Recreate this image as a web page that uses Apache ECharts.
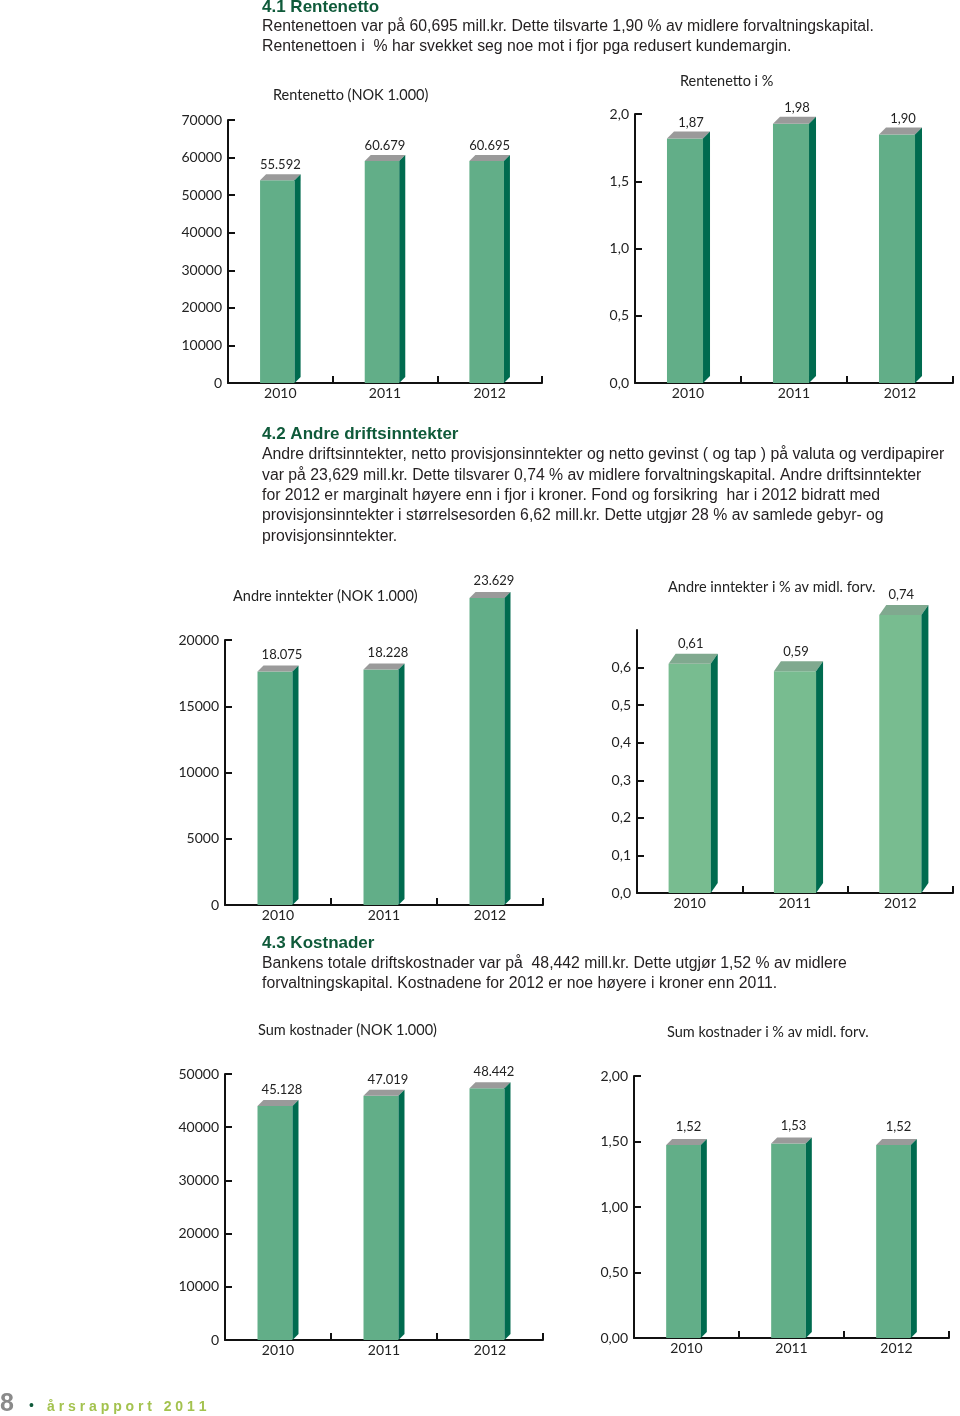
<!DOCTYPE html>
<html><head><meta charset="utf-8">
<script src="https://cdn.jsdelivr.net/npm/echarts@6/dist/echarts.min.js"></script>
<style>html,body{margin:0;padding:0;background:#fff}#c{width:960px;height:1416px}</style>
</head><body><div id="c"></div>
<script>
// ---- data ----
var years = ['2010', '2011', '2012'];
var rentenetto = [55592, 60679, 60695];
var rentenettoPct = [1.87, 1.98, 1.90];
var andreInntekter = [18075, 18228, 23629];
var andrePct = [0.61, 0.59, 0.74];
var sumKostnader = [45128, 47019, 48442];
var kostPct = [1.52, 1.53, 1.52];
var andrePctTicks = [0, 0.1, 0.2, 0.3, 0.4, 0.5, 0.6];
var chartTitles = ['Rentenetto (NOK 1.000)', 'Rentenetto i %', 'Andre inntekter (NOK 1.000)',
  'Andre inntekter i % av midl. forv.', 'Sum kostnader (NOK 1.000)', 'Sum kostnader i % av midl. forv.'];

// ---- styling ----
var FONT = 'Lato';
var BODY = 'Liberation Sans';
function fmtThousand(v) { var s = String(Math.round(v)); return s.replace(/\B(?=(\d{3})+(?!\d))/g, '.'); }
function fmtDec(d) { return function (v) { return Number(v).toFixed(d).replace('.', ','); }; }

var charts = [
  { data: rentenetto, grid: { left: 228, top: 120, width: 314, height: 263 }, max: 70000, interval: 10000, yfmt: function (v) { return String(v); }, lfmt: fmtThousand, front: '#62ae88', top: '#9a9a9a', side: '#006b4f', wFrac: 0.33, dx: 6, dy: 6, off: -3, frontAtValue: false, lblDx: 0, lblGap: 9 },
  { data: rentenettoPct, grid: { left: 635, top: 114, width: 318, height: 269 }, max: 2.0, interval: 0.5, yfmt: fmtDec(1), lfmt: fmtDec(2), front: '#62ae88', top: '#9a9a9a', side: '#006b4f', wFrac: 0.34, dx: 7, dy: 7, off: -3, frontAtValue: false, lblDx: 3, lblGap: 9 },
  { data: andreInntekter, grid: { left: 225, top: 640, width: 318, height: 265 }, max: 20000, interval: 5000, yfmt: function (v) { return String(v); }, lfmt: fmtThousand, front: '#62ae88', top: '#9a9a9a', side: '#006b4f', wFrac: 0.33, dx: 6, dy: 6, off: -3, frontAtValue: false, lblDx: 4, lblGap: 11 },
  { data: andrePct, grid: { left: 637, top: 630, width: 316, height: 263 }, max: 0.7, interval: 0.1, ticks: andrePctTicks, yfmt: fmtDec(1), lfmt: fmtDec(2), front: '#78bc90', top: '#80a98f', side: '#006b4f', wFrac: 0.40, dx: 7, dy: 10, off: 0, frontAtValue: true, lblDx: 1, lblGap: 10 },
  { data: sumKostnader, grid: { left: 225, top: 1074, width: 318, height: 266 }, max: 50000, interval: 10000, yfmt: function (v) { return String(v); }, lfmt: fmtThousand, front: '#62ae88', top: '#9a9a9a', side: '#006b4f', wFrac: 0.33, dx: 6, dy: 6, off: -3, frontAtValue: false, lblDx: 4, lblGap: 10 },
  { data: kostPct, grid: { left: 634, top: 1076, width: 315, height: 262 }, max: 2.0, interval: 0.5, yfmt: fmtDec(2), lfmt: fmtDec(2), front: '#62ae88', top: '#9a9a9a', side: '#006b4f', wFrac: 0.33, dx: 6, dy: 6, off: -3, frontAtValue: false, lblDx: 2, lblGap: 12 }
];

var titlePos = [[273, 95], [680, 81], [233, 596], [668, 587], [258, 1030], [667, 1032]];

function renderer(cfg) {
  return function (params, api) {
    var idx = api.value(0), v = api.value(1);
    var c = api.coord([idx, v]);
    var base = api.coord([idx, 0]);
    var band = api.size([1, 0])[0];
    var w = band * cfg.wFrac, dx = cfg.dx, dy = cfg.dy;
    var cx = c[0] + cfg.off;
    var x0 = cx - w / 2, x1 = cx + w / 2;
    var yFront = cfg.frontAtValue ? c[1] : c[1] + dy;
    var yBack = yFront - dy;
    var y0 = base[1];
    return {
      type: 'group',
      children: [
        { type: 'rect', shape: { x: x0, y: yFront, width: w, height: y0 - yFront }, style: { fill: cfg.front } },
        { type: 'polygon', shape: { points: [[x0, yFront], [x0 + dx, yBack], [x1 + dx, yBack], [x1, yFront]] }, style: { fill: cfg.top } },
        { type: 'polygon', shape: { points: [[x1, yFront], [x1 + dx, yBack], [x1 + dx, y0 - dy], [x1, y0]] }, style: { fill: cfg.side } },
        { type: 'text', x: c[0] + cfg.lblDx, y: yBack - cfg.lblGap, style: { text: cfg.lfmt(v), fontFamily: FONT, fontSize: 13, fill: '#222', align: 'center', verticalAlign: 'middle' } }
      ]
    };
  };
}

var grids = [], xAxes = [], yAxes = [], series = [];
charts.forEach(function (cfg, i) {
  grids.push(cfg.grid);
  xAxes.push({
    type: 'category', gridIndex: i, data: years, boundaryGap: true,
    axisLine: { lineStyle: { color: '#111', width: 2 } },
    axisTick: { show: true, inside: true, length: 7, alignWithLabel: false, interval: 0, lineStyle: { color: '#111', width: 2 } },
    axisLabel: { fontFamily: FONT, fontSize: 14, color: '#222', margin: 3 },
    splitLine: { show: false }
  });
  var y = {
    type: 'value', gridIndex: i, min: 0, max: cfg.max, interval: cfg.interval,
    axisLine: { show: true, lineStyle: { color: '#111', width: 2 } },
    axisTick: { show: true, inside: true, length: 7, lineStyle: { color: '#111', width: 2 } },
    axisLabel: { fontFamily: FONT, fontSize: 14, color: '#222', margin: 6, formatter: cfg.yfmt },
    splitLine: { show: false }
  };
  if (cfg.ticks) {
    y.axisTick.customValues = cfg.ticks;
    y.axisLabel.customValues = cfg.ticks;
  }
  yAxes.push(y);
  series.push({
    type: 'custom', xAxisIndex: i, yAxisIndex: i, clip: false,
    data: cfg.data.map(function (v, k) { return [k, v]; }),
    encode: { x: 0, y: 1 },
    renderItem: renderer(cfg)
  });
});

var graphics = [];
function txt(x, y, s, opt) {
  graphics.push({ type: 'text', x: x, y: y, style: Object.assign({ text: s, fontFamily: BODY, fontSize: 15.8, fill: '#231f20', verticalAlign: 'middle' }, opt || {}) });
}
var H = { fontWeight: 'bold', fill: '#0f5a3a', fontSize: 17 };
txt(262, 7, '4.1 Rentenetto', H);
txt(262, 27, 'Rentenettoen var på 60,695 mill.kr. Dette tilsvarte 1,90 % av midlere forvaltningskapital.');
txt(262, 47, 'Rentenettoen i  % har svekket seg noe mot i fjor pga redusert kundemargin.');
txt(262, 434, '4.2 Andre driftsinntekter', H);
var p2 = ['Andre driftsinntekter, netto provisjonsinntekter og netto gevinst ( og tap ) på valuta og verdipapirer',
  'var på 23,629 mill.kr. Dette tilsvarer 0,74 % av midlere forvaltningskapital. Andre driftsinntekter',
  'for 2012 er marginalt høyere enn i fjor i kroner. Fond og forsikring  har i 2012 bidratt med',
  'provisjonsinntekter i størrelsesorden 6,62 mill.kr. Dette utgjør 28 % av samlede gebyr- og',
  'provisjonsinntekter.'];
p2.forEach(function (s, k) { txt(262, 455 + k * 20.3, s); });
txt(262, 943, '4.3 Kostnader', H);
txt(262, 964, 'Bankens totale driftskostnader var på  48,442 mill.kr. Dette utgjør 1,52 % av midlere');
txt(262, 984, 'forvaltningskapital. Kostnadene for 2012 er noe høyere i kroner enn 2011.');
chartTitles.forEach(function (t, k) {
  txt(titlePos[k][0], titlePos[k][1], t, { fontFamily: FONT, fontSize: 14.5, fill: '#222' });
});
txt(0, 1404, '8', { fontFamily: 'Liberation Sans', fontWeight: 'bold', fontSize: 25, fill: '#8a8a8a' });
txt(29, 1406, '•', { fontFamily: 'Liberation Sans', fontSize: 14, fill: '#0f5a3a' });
txt(47, 1407, 'å r s r a p p o r t   2 0 1 1', { fontFamily: 'Liberation Sans', fontWeight: 'bold', fontSize: 14, fill: '#a3c24e' });

var chart = echarts.init(document.getElementById('c'), null, { renderer: 'canvas' });
chart.setOption({
  animation: false,
  backgroundColor: '#fff',
  grid: grids, xAxis: xAxes, yAxis: yAxes, series: series,
  graphic: graphics
});
</script>
</body></html>
